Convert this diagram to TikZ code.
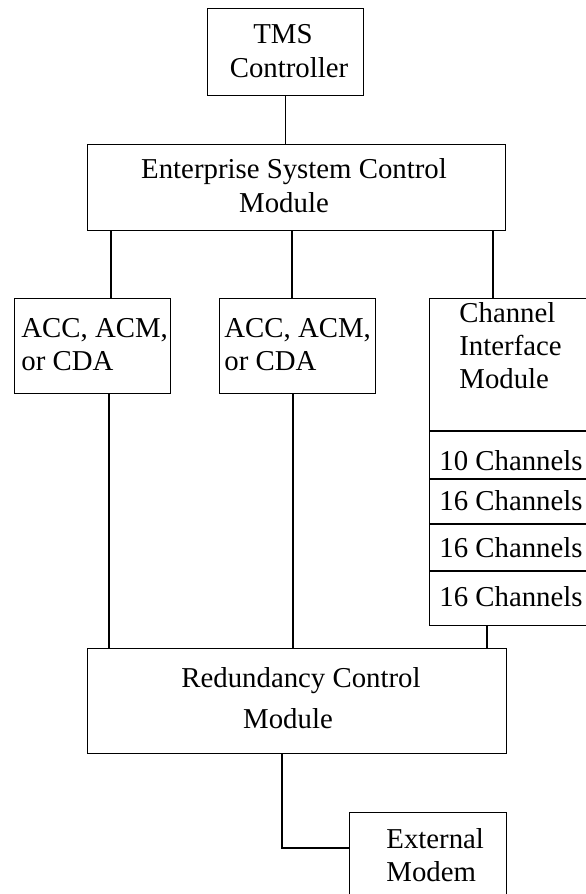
\documentclass[tikz,border=0pt]{standalone}
\usepackage{fontspec}
\setmainfont{Liberation Serif}
\begin{document}
\begin{tikzpicture}[x=0.5pt,y=-0.5pt,
  box/.style={draw, line width=0.55pt, inner sep=0pt, anchor=north west},
  txt/.style={inner sep=0pt, font=\fontsize{14.4pt}{17pt}\selectfont},
  ctr/.style={txt, anchor=base},
  lft/.style={txt, anchor=base west},
  wire/.style={line width=0.55pt}]
\useasboundingbox (0,0) rectangle (585,894);

% boxes
\node[box, minimum width=78pt, minimum height=43.5pt] (tms) at (207,8) {};
\node[box, minimum width=209pt, minimum height=43pt] (esc) at (87,144) {};
\node[box, minimum width=78pt, minimum height=47.5pt] (acc1) at (14,298) {};
\node[box, minimum width=78pt, minimum height=47.5pt] (acc2) at (219,298) {};
\node[box, minimum width=90pt, minimum height=163.5pt] (cim) at (429,298) {};
\node[box, minimum width=209.5pt, minimum height=52.5pt] (rcm) at (87,648) {};
\node[box, minimum width=78.5pt, minimum height=50pt] (modem) at (349,812) {};

% texts
\node[ctr] (tms1) at (283,43) {TMS};
\node[ctr] (tms2) at (289,77) {Controller};
\node[ctr] (esc1) at (294,178) {Enterprise System Control};
\node[ctr] (esc2) at (284,212) {Module};
\node[lft] (acc1a) at (21,337) {ACC, ACM,};
\node[lft] (acc1b) at (21,370) {or CDA};
\node[lft] (acc2a) at (224,337) {ACC, ACM,};
\node[lft] (acc2b) at (224,370) {or CDA};
\node[lft] (cim1) at (459,322) {Channel};
\node[lft] (cim2) at (459,355) {Interface};
\node[lft] (cim3) at (459,388) {Module};
\node[lft] (ch1) at (439,470) {10 Channels};
\node[lft] (ch2) at (439,510) {16 Channels};
\node[lft] (ch3) at (439,557) {16 Channels};
\node[lft] (ch4) at (439,606) {16 Channels};
\node[ctr] (rcm1) at (301,687) {Redundancy Control};
\node[ctr] (rcm2) at (288,728) {Module};
\node[lft] (mod1) at (386,848) {External};
\node[lft] (mod2) at (386,881) {Modem};

% channel dividers
\coordinate (d1) at (429,431);
\coordinate (d2) at (429,479);
\coordinate (d3) at (429,524);
\coordinate (d4) at (429,571);
\foreach \d in {d1,d2,d3,d4} \draw[wire] (\d) -- (\d -| cim.east);

% connector x positions
\coordinate (xa) at (111,0);
\coordinate (xb) at (292,0);
\coordinate (xc) at (493,0);
\coordinate (xd) at (109,0);
\coordinate (xe) at (293,0);
\coordinate (xf) at (487,0);
\coordinate (xm) at (282,0);
\coordinate (ym) at (0,848);

\draw[wire] (tms.south) -- (tms.south |- esc.north);
\draw[wire] (esc.south -| xa) -- (acc1.north -| xa);
\draw[wire] (esc.south -| xb) -- (acc2.north -| xb);
\draw[wire] (esc.south -| xc) -- (cim.north -| xc);
\draw[wire] (acc1.south -| xd) -- (rcm.north -| xd);
\draw[wire] (acc2.south -| xe) -- (rcm.north -| xe);
\draw[wire] (cim.south -| xf) -- (rcm.north -| xf);
\draw[wire] (rcm.south -| xm) |- (modem.west |- ym);
\end{tikzpicture}
\end{document}
